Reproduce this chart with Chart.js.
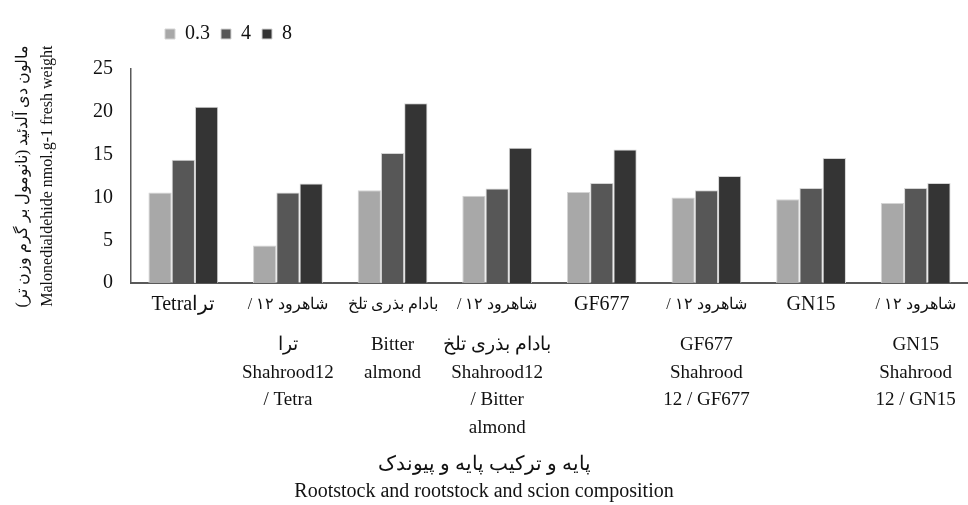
<!DOCTYPE html>
<html>
<head>
<meta charset="utf-8">
<script src="https://cdn.jsdelivr.net/npm/chart.js@4.4.1/dist/chart.umd.min.js"></script>
<style>
  html, body { margin: 0; padding: 0; background: #fff; }
  canvas { display: block; }
</style>
</head>
<body>
<canvas id="chart" width="968" height="505"></canvas>
<script>
// first row of each category label (sits right under the axis)
const labelsTop = ['Tetraترا', '/ شاهرود ۱۲', 'بادام بذری تلخ', '/ شاهرود ۱۲', 'GF677', '/ شاهرود ۱۲', 'GN15', '/ شاهرود ۱۲'];
// remaining rows of each category label
const labelsBelow = [
  [''],
  ['ترا', 'Shahrood12', '/ Tetra'],
  ['Bitter', 'almond'],
  ['بادام بذری تلخ', 'Shahrood12', '/ Bitter', 'almond'],
  [''],
  ['GF677', 'Shahrood', '12 / GF677'],
  [''],
  ['GN15', 'Shahrood', '12 / GN15']
];
const seriesNames = ['0.3', '4', '8'];
const values03 = [10.6, 4.4, 10.85, 10.2, 10.65, 10.0, 9.8, 9.35];
const values4 = [14.4, 10.6, 15.2, 11.05, 11.7, 10.85, 11.1, 11.1];
const values8 = [20.6, 11.65, 21.0, 15.8, 15.6, 12.5, 14.6, 11.7];
const yTicks = [0, 5, 10, 15, 20, 25];

const yTitle = ['مالون دی آلدئید (نانومول بر گرم وزن تر)', 'Malonedialdehide nmol.g-1 fresh weight'];
const xTitle = ['پایه و ترکیب پایه و پیوندک', 'Rootstock and rootstock and scion composition'];

const serif = "'Liberation Serif', 'Times New Roman', serif";

// legend: a bit of extra room below it, and start it right of the plot's left edge
const legendPlace = {
  id: 'legendPlace',
  beforeInit(chart) {
    const fit = chart.legend.fit;
    chart.legend.fit = function () {
      fit.call(this);
      this.height += 15;
    };
  },
  afterLayout(chart) {
    chart.legend.left = chart.chartArea.left + 23;
  }
};

const ctx = document.getElementById('chart').getContext('2d');
new Chart(ctx, {
  type: 'bar',
  data: {
    labels: labelsTop,
    datasets: [
      { label: seriesNames[0], data: values03, backgroundColor: '#a8a8a8' },
      { label: seriesNames[1], data: values4, backgroundColor: '#575757' },
      { label: seriesNames[2], data: values8, backgroundColor: '#343434' }
    ]
  },
  options: {
    responsive: false,
    animation: false,
    devicePixelRatio: 1,
    layout: { padding: { top: 13, left: 0, right: 0, bottom: 0 } },
    datasets: {
      bar: {
        categoryPercentage: 0.667,
        barPercentage: 1,
        borderColor: '#d4d4d4',
        borderWidth: 1
      }
    },
    scales: {
      x: {
        weight: 0,
        grid: { display: false, drawTicks: false },
        border: { display: true, color: '#595959', width: 2 },
        ticks: {
          autoSkip: false,
          maxRotation: 0,
          minRotation: 0,
          padding: 10,
          color: '#111',
          font: c => ({
            family: serif,
            size: /^[A-Za-z]/.test(labelsTop[c.index] || '') ? 20 : 16,
            lineHeight: '24px'
          })
        }
      },
      x2: {
        type: 'category',
        position: 'bottom',
        weight: 1,
        labels: labelsBelow,
        offset: true,
        grid: { display: false, drawTicks: false },
        border: { display: false },
        ticks: {
          autoSkip: false,
          maxRotation: 0,
          minRotation: 0,
          padding: 4,
          color: '#111',
          font: { family: serif, size: 19, lineHeight: '27.7px' }
        }
      },
      y: {
        min: 0,
        max: 25,
        grid: { display: false, drawTicks: false },
        border: { display: true, color: '#595959', width: 1.5 },
        afterBuildTicks: s => { s.ticks = yTicks.map(v => ({ value: v })); },
        afterFit: s => { s.width = 131; },
        ticks: {
          padding: 18,
          color: '#111',
          font: { family: serif, size: 20 }
        },
        title: {
          display: true,
          text: yTitle,
          color: '#111',
          font: { family: serif, size: 16, lineHeight: '25px' },
          padding: { top: 10, bottom: 0 }
        }
      }
    },
    plugins: {
      legend: {
        position: 'top',
        align: 'start',
        labels: {
          boxWidth: 10,
          boxHeight: 10,
          padding: 11,
          color: '#111',
          font: { family: serif, size: 20 }
        }
      },
      title: {
        display: true,
        position: 'bottom',
        text: xTitle,
        color: '#111',
        font: { family: serif, size: 20, weight: 'normal', lineHeight: '27px' },
        padding: { top: 5, bottom: 0 }
      },
      tooltip: { enabled: false }
    }
  },
  plugins: [legendPlace]
});
</script>
</body>
</html>
